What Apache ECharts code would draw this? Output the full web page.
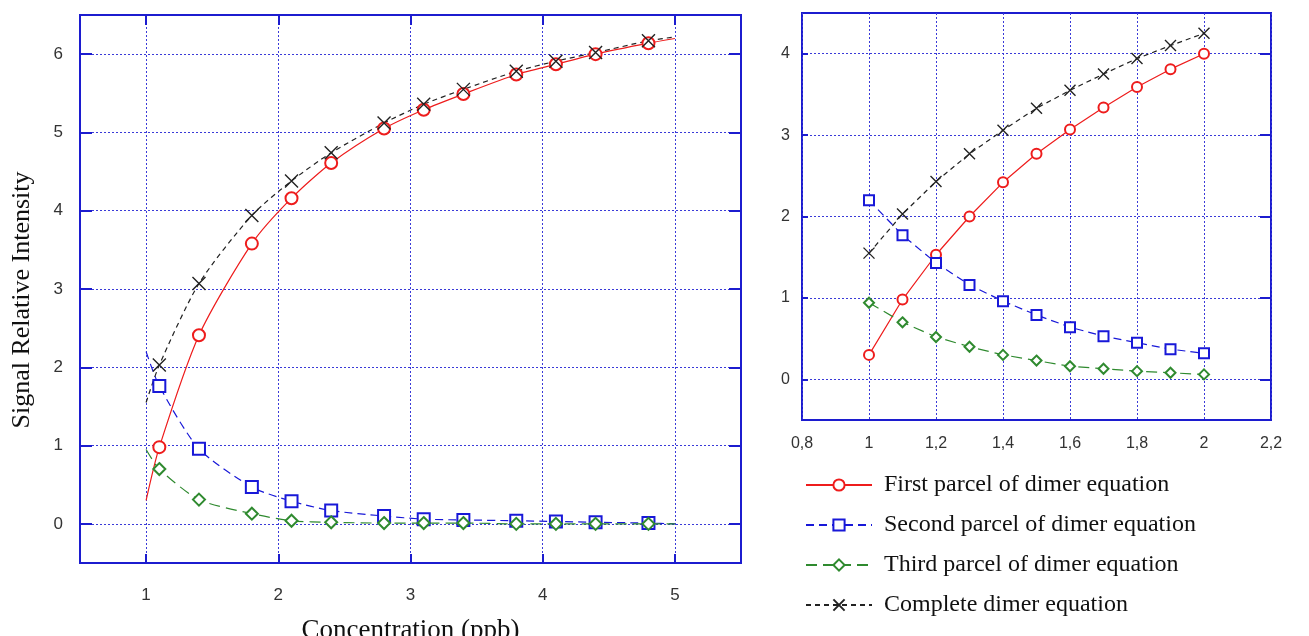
<!DOCTYPE html>
<html>
<head>
<meta charset="utf-8">
<script src="https://cdn.jsdelivr.net/npm/echarts@6/dist/echarts.min.js"></script>
<style>
    html, body { margin: 0; padding: 0; background: #fff; }
    #chart { width: 1309px; height: 636px; }
</style>
</head>
<body>
<div id="chart"></div>
<script>
var names = ['First parcel of dimer equation', 'Second parcel of dimer equation',
    'Third parcel of dimer equation', 'Complete dimer equation'];

// left panel: curve starts at x=1 and ends at x=5, markers in between
var leftX = [1, 1.1, 1.4, 1.8, 2.1, 2.4, 2.8, 3.1, 3.4, 3.8, 4.1, 4.4, 4.8, 5];
var leftFirst = [0.3, 0.98, 2.41, 3.58, 4.16, 4.61, 5.05, 5.29, 5.49, 5.74, 5.87, 6.0, 6.14, 6.2];
var leftSecond = [2.2, 1.76, 0.96, 0.47, 0.29, 0.17, 0.10, 0.06, 0.05, 0.04, 0.03, 0.02, 0.01, 0.0];
var leftThird = [0.95, 0.70, 0.31, 0.13, 0.04, 0.02, 0.01, 0.01, 0.01, 0.0, 0.0, 0.0, 0.0, 0.0];
var leftComplete = [1.55, 2.03, 3.07, 3.94, 4.38, 4.74, 5.12, 5.36, 5.55, 5.78, 5.91, 6.02, 6.17, 6.22];

// right panel (zoom on 1..2)
var rightX = [1, 1.1, 1.2, 1.3, 1.4, 1.5, 1.6, 1.7, 1.8, 1.9, 2];
var rightFirst = [0.3, 0.98, 1.53, 2.0, 2.42, 2.77, 3.07, 3.34, 3.59, 3.81, 4.0];
var rightSecond = [2.2, 1.77, 1.43, 1.16, 0.96, 0.79, 0.64, 0.53, 0.45, 0.37, 0.32];
var rightThird = [0.94, 0.70, 0.52, 0.40, 0.30, 0.23, 0.16, 0.13, 0.10, 0.08, 0.06];
var rightComplete = [1.55, 2.03, 2.43, 2.77, 3.06, 3.33, 3.55, 3.75, 3.94, 4.10, 4.25];

var leftXTicks = [1, 2, 3, 4, 5];
var leftYTicks = [0, 1, 2, 3, 4, 5, 6];
var rightXTicks = [0.8, 1, 1.2, 1.4, 1.6, 1.8, 2, 2.2];
var rightYTicks = [0, 1, 2, 3, 4];

var BLUE = '#1c1ccf';
var GRIDLINE = '#3a3ad8';
var colors = ['#ee1c1c', '#1818d8', '#2f8a2f', '#222222'];
var symbols = ['emptyCircle', 'emptyRect', 'emptyDiamond', 'path://M0,0L10,10M0,10L10,0'];
var dashes = ['solid', [8, 5], [11, 6], [5, 4]];

function pairs(xs, ys, hideEnds) {
    var out = [];
    for (var i = 0; i < xs.length; i++) {
        var item = {value: [xs[i], ys[i]]};
        if (hideEnds && (i === 0 || i === xs.length - 1)) {
            item.symbol = 'none';
        }
        out.push(item);
    }
    return out;
}

function makeSeries(k, data, xi, yi, size, smooth) {
    return {
        name: names[k],
        type: 'line',
        xAxisIndex: xi,
        yAxisIndex: yi,
        data: data,
        smooth: smooth,
        symbol: symbols[k],
        symbolSize: k === 3 ? size + 1 : size,
        showAllSymbol: true,
        lineStyle: {color: colors[k], width: 1.2, type: dashes[k]},
        itemStyle: {color: colors[k], borderColor: colors[k], borderWidth: 1.4},
        emphasis: {disabled: true},
        z: 3
    };
}

function valueAxis(grid, pos, min, max, ticks, labels, split, fontSize, margin, tickLen) {
    return {
        type: 'value',
        gridIndex: grid,
        position: pos,
        min: min,
        max: max,
        axisLine: {show: false, onZero: false},
        axisTick: {show: true, inside: true, length: tickLen, customValues: ticks,
            lineStyle: {color: BLUE, width: 2}},
        axisLabel: {show: labels, customValues: ticks, margin: margin,
            fontFamily: 'Liberation Sans', fontSize: fontSize, color: '#333',
            formatter: function (v) { return String(+v.toFixed(1)).replace('.', ','); }},
        splitLine: {show: split, lineStyle: {color: GRIDLINE, width: 1, type: [2, 2]}}
    };
}

var chart = echarts.init(document.getElementById('chart'));

var xAxes = [
    valueAxis(0, 'bottom', 0.5, 5.5, leftXTicks, true, true, 17, 24, 9),
    valueAxis(0, 'top', 0.5, 5.5, leftXTicks, false, false, 17, 0, 10),
    valueAxis(1, 'bottom', 0.8, 2.2, rightXTicks, true, true, 16, 16, 0),
    valueAxis(1, 'top', 0.8, 2.2, rightXTicks, false, false, 16, 0, 0)
];
var yAxes = [
    valueAxis(0, 'left', -0.5, 6.5, leftYTicks, true, true, 17, 17, 12),
    valueAxis(0, 'right', -0.5, 6.5, leftYTicks, false, false, 17, 0, 12),
    valueAxis(1, 'left', -0.5, 4.5, rightYTicks, true, true, 16, 12, 6),
    valueAxis(1, 'right', -0.5, 4.5, rightYTicks, false, false, 16, 0, 11)
];

xAxes[0].name = 'Concentration (ppb)';
xAxes[0].nameLocation = 'middle';
xAxes[0].nameGap = 54;
xAxes[0].nameTextStyle = {fontFamily: 'Liberation Serif', fontSize: 27, color: '#111'};

yAxes[0].name = 'Signal Relative Intensity';
yAxes[0].nameLocation = 'middle';
yAxes[0].nameGap = 45;
yAxes[0].nameTextStyle = {fontFamily: 'Liberation Serif', fontSize: 26, color: '#111',
    padding: [0, 22, 0, 0]};

var leftData = [leftFirst, leftSecond, leftThird, leftComplete];
var rightData = [rightFirst, rightSecond, rightThird, rightComplete];
var series = [];
for (var k = 0; k < 4; k++) {
    series.push(makeSeries(k, pairs(rightX, rightData[k], false), 2, 2, 10, false));
}
for (var k = 0; k < 4; k++) {
    series.push(makeSeries(k, pairs(leftX, leftData[k], true), 0, 0, 12, 0.25));
}

var option = {
    animation: false,
    grid: [
        {left: 80, top: 15, width: 661, height: 548, show: true, outerBoundsMode: 'none',
            borderColor: BLUE, borderWidth: 2, backgroundColor: 'transparent'},
        {left: 802, top: 13, width: 469, height: 407, show: true, outerBoundsMode: 'none',
            borderColor: BLUE, borderWidth: 2, backgroundColor: 'transparent'}
    ],
    legend: {
        data: names,
        orient: 'vertical',
        left: 805,
        top: 473,
        padding: 0,
        itemWidth: 66,
        itemHeight: 14,
        itemGap: 16,
        textStyle: {fontFamily: 'Liberation Serif', fontSize: 24, color: '#111',
            padding: [0, 0, 0, 7]},
        selectedMode: false
    },
    xAxis: xAxes,
    yAxis: yAxes,
    series: series
};
chart.setOption(option);
</script>
</body>
</html>
